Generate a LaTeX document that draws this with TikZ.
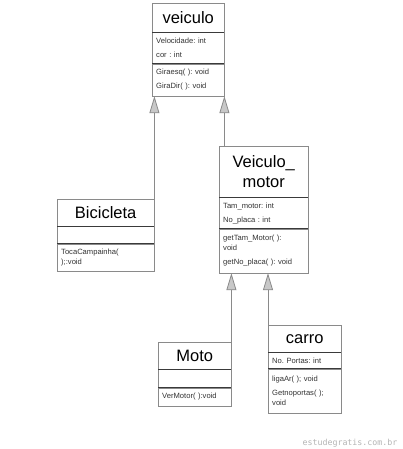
\documentclass[tikz,border=0pt]{standalone}
\usepackage{fontspec}
\setmainfont{Liberation Sans}
\newfontfamily\markfont{DejaVu Sans Mono}
\usetikzlibrary{positioning,arrows.meta}
\definecolor{boxgray}{HTML}{8A8A8A}
\definecolor{sepgray}{HTML}{3A3A3A}
\definecolor{tipgray}{HTML}{C8C8C8}
\definecolor{markgray}{HTML}{B4B4B4}
\definecolor{txtgray}{HTML}{333333}
\frenchspacing

\begin{document}
\begin{tikzpicture}[x=1pt, y=-1pt,
  head/.style={draw=boxgray, fill=white, anchor=north west, inner sep=0pt,
               align=center, font=\fontsize{16.5}{20}\selectfont},
  part/.style={draw=boxgray, fill=white, inner xsep=4pt, inner ysep=0pt,
               align=left, text=txtgray, font=\fontsize{7.6}{14}\selectfont},
  sep/.style={draw=sepgray, line width=1.3pt},
  inh/.style={draw=boxgray, line width=0.8pt,
              -{Triangle[width=10pt, length=17pt, fill=tipgray]}},
]
\useasboundingbox (0,0) rectangle (402,449);

% ---- veiculo ----
\node[head, minimum width=72pt, minimum height=29pt] (veic) at (152,3) {veiculo};
\node[part, text width=64pt, minimum height=31pt, below=0pt of veic] (veicA)
  {Velocidade: int\\cor : int};
\node[part, text width=64pt, minimum height=32pt, below=0pt of veicA] (veicM)
  {Giraesq( ): void\\GiraDir( ): void};
\draw[sep] (veicA.north west) -- (veicA.north east);
\draw[sep] (veicM.north west) -- (veicM.north east);

% ---- Bicicleta ----
\node[head, minimum width=97pt, minimum height=27pt] (bici) at (57,199) {Bicicleta};
\node[part, text width=89pt, minimum height=17pt, below=0pt of bici] (biciA) {};
\node[part, text width=89pt, minimum height=27pt, below=0pt of biciA,
      font=\fontsize{7.6}{10}\selectfont] (biciM)
  {TocaCampainha(\\);:void};
\draw[sep] (biciA.north west) -- (biciA.north east);
\draw[sep] (biciM.north west) -- (biciM.north east);

% ---- Veiculo_motor ----
\node[head, minimum width=89pt, minimum height=51pt] (vm) at (219,146) {Veiculo\_\\motor};
\node[part, text width=81pt, minimum height=31pt, below=0pt of vm] (vmA)
  {Tam\_motor: int\\No\_placa : int};
\node[part, text width=81pt, minimum height=44pt, below=0pt of vmA,
      font=\fontsize{7.6}{10}\selectfont] (vmM)
  {getTam\_Motor( ):\\void\\[4pt]getNo\_placa( ): void};
\draw[sep] (vmA.north west) -- (vmA.north east);
\draw[sep] (vmM.north west) -- (vmM.north east);

% ---- Moto ----
\node[head, minimum width=73pt, minimum height=27pt] (moto) at (158,342) {Moto};
\node[part, text width=65pt, minimum height=18pt, below=0pt of moto] (motoA) {};
\node[part, text width=65pt, minimum height=18pt, below=0pt of motoA] (motoM)
  {VerMotor( ):void};
\draw[sep] (motoA.north west) -- (motoA.north east);
\draw[sep] (motoM.north west) -- (motoM.north east);

% ---- carro ----
\node[head, minimum width=73pt, minimum height=27pt] (carro) at (268,325) {carro};
\node[part, text width=65pt, minimum height=16pt, below=0pt of carro] (carroA)
  {No. Portas: int};
\node[part, text width=65pt, minimum height=44pt, below=0pt of carroA,
      font=\fontsize{7.6}{10}\selectfont] (carroM)
  {ligaAr( ); void\\[4pt]Getnoportas( );\\void};
\draw[sep] (carroA.north west) -- (carroA.north east);
\draw[sep] (carroM.north west) -- (carroM.north east);

% ---- inheritance ----
\draw[inh] (bici.north east) -- (bici.north east |- veicM.south);
\draw[inh] (veicM.south east |- vm.north) -- (veicM.south east);
\draw[inh] (moto.north east) -- (moto.north east |- vmM.south);
\draw[inh] (carro.north west) -- (carro.north west |- vmM.south);

\node[anchor=east, text=markgray, font=\markfont\fontsize{8.3}{10}\selectfont]
  (mark) at (401,443) {estudegratis.com.br};
\end{tikzpicture}
\end{document}
